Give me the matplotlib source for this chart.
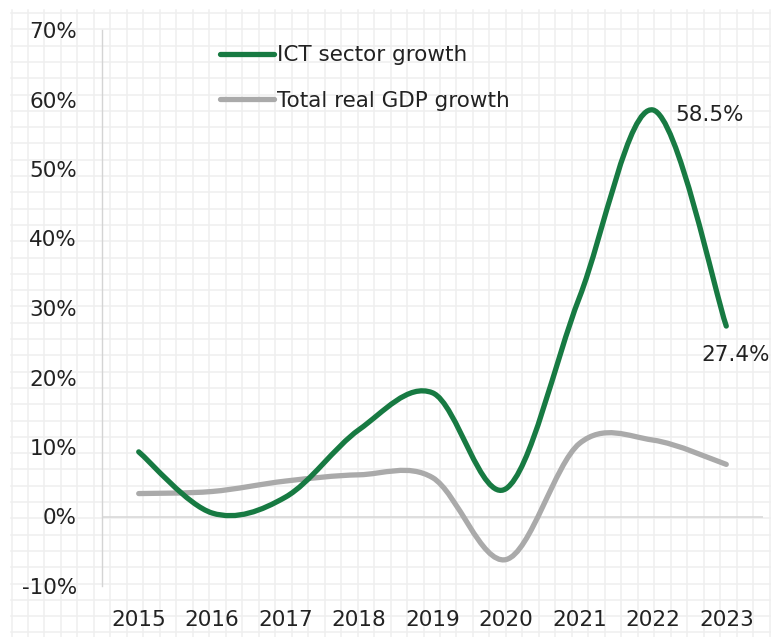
import numpy as np
import matplotlib.pyplot as plt
from matplotlib.path import Path
from matplotlib.patches import PathPatch
from matplotlib.lines import Line2D

years = ['2015', '2016', '2017', '2018', '2019', '2020', '2021', '2022', '2023']
ict_growth = [9.3, 0.5, 2.8, 12.5, 17.8, 4.0, 31.5, 58.5, 27.4]
gdp_growth = [3.3, 3.6, 5.1, 6.0, 5.6, -6.2, 10.5, 11.0, 7.5]
y_ticks = [-10, 0, 10, 20, 30, 40, 50, 60, 70]

GREEN = '#177a42'
GREY = '#aaaaaa'
TEXT = '#222222'

plt.rcParams['font.family'] = 'DejaVu Sans'


def smooth_path(xs, ys):
    ## excel style smoothed line: cubic bezier through the points
    pts = np.column_stack([xs, ys]).astype(float)
    n = len(pts)
    verts = [pts[0]]
    codes = [Path.MOVETO]
    for i in range(n - 1):
        p0 = pts[max(i - 1, 0)]
        p1 = pts[i]
        p2 = pts[i + 1]
        p3 = pts[min(i + 2, n - 1)]
        verts += [p1 + (p2 - p0) / 6, p2 - (p3 - p1) / 6, p2]
        codes += [Path.CURVE4] * 3
    return Path(verts, codes)


fig = plt.figure(figsize=(7.71, 6.37), dpi=100)

## graph paper background over the whole figure
bg = fig.add_axes([0, 0, 1, 1], zorder=0)
bg.set_xlim(0, 771)
bg.set_ylim(637, 0)
bg.axis('off')
for gx in np.arange(11.5, 771, 16.48):
    bg.axvline(gx, color='#efefef', lw=1.1, ymin=0, ymax=1 - 10 / 637)
for gy in np.arange(13, 637, 16.3):
    bg.axhline(gy, color='#efefef', lw=1.1, xmin=11 / 771, xmax=1)

ax = fig.add_axes([102 / 771, 1 - 586 / 637, 661 / 771, 556 / 637], zorder=1)
ax.patch.set_alpha(0)

x = np.arange(len(years))
ax.add_patch(PathPatch(smooth_path(x, gdp_growth), fill=False, edgecolor=GREY,
                       lw=3.8, capstyle='round', joinstyle='round', zorder=3))
ax.add_patch(PathPatch(smooth_path(x, ict_growth), fill=False, edgecolor=GREEN,
                       lw=3.8, capstyle='round', joinstyle='round', zorder=4))

ax.axhline(0, color='#d9d9d9', lw=1.2, zorder=2)

ax.set_xlim(-0.5, len(years) - 0.5)
ax.set_ylim(-10, 70)
ax.set_xticks(x)
ax.set_xticklabels(years)
ax.set_yticks(y_ticks)
ax.set_yticklabels([f'{v}%' for v in y_ticks])
ax.tick_params(axis='both', length=0, labelsize=15.5, labelcolor=TEXT)
ax.tick_params(axis='y', pad=18)
ax.tick_params(axis='x', pad=17)

for side in ['top', 'right', 'bottom']:
    ax.spines[side].set_visible(False)
ax.spines['left'].set_color('#d4d4d4')
ax.spines['left'].set_linewidth(1.0)

## end labels
ax.annotate(f'{ict_growth[7]}%', (7, ict_growth[7]), xytext=(16, -4),
            textcoords='offset points', fontsize=15.5, color=TEXT, va='center')
ax.annotate(f'{ict_growth[8]}%', (8, ict_growth[8]), xytext=(-18, -21),
            textcoords='offset points', fontsize=15.5, color=TEXT, va='center')

handles = [Line2D([], [], color=GREEN, lw=3.8, solid_capstyle='round'),
           Line2D([], [], color=GREY, lw=3.8, solid_capstyle='round')]
ax.legend(handles, ['ICT sector growth', 'Total real GDP growth'],
          loc='upper left', bbox_to_anchor=(103 / 661, 1.0),
          frameon=False, fontsize=15.5, labelcolor=TEXT,
          handlelength=2.5, handletextpad=0.15, labelspacing=1.2,
          borderaxespad=0.3)

fig.savefig('out.png', dpi=100)
